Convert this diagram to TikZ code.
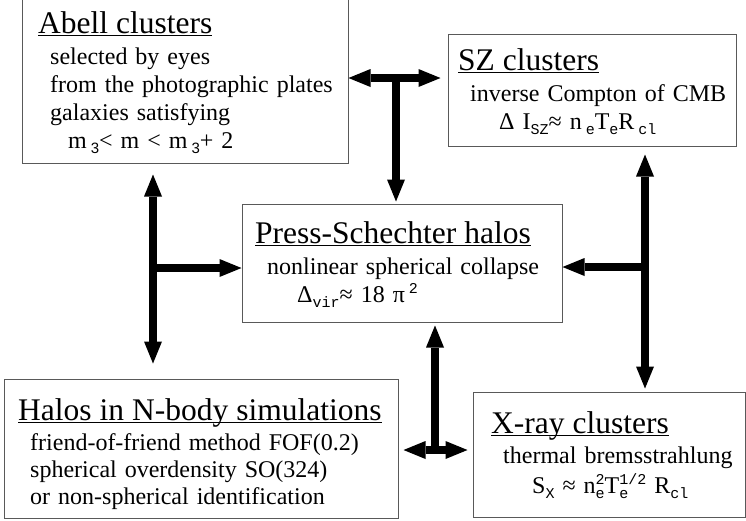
\documentclass[tikz,border=0pt]{standalone}
\usepackage{fontspec}
\setmainfont{Liberation Serif}
\newfontfamily\monofont{Liberation Mono}
\newfontfamily\sansfnt{Liberation Sans}
\usetikzlibrary{arrows.meta, calc}

\newcommand{\titlefont}{\fontsize{31.5}{34}\selectfont}
\newcommand{\bodyfont}{\fontsize{24}{28}\selectfont}
\newcommand{\lowidx}[1]{\raisebox{-5pt}{\monofont\fontsize{15}{15}\selectfont #1}}
\newcommand{\highidx}[1]{\raisebox{9pt}{\monofont\fontsize{15}{15}\selectfont #1}}
\newcommand{\bothidx}[2]{\rlap{\lowidx{#1}}\highidx{#2}}
\newcommand{\headline}[1]{{\titlefont\setbox0\hbox{#1}\rlap{\rule[-2.5pt]{\wd0}{1pt}}\box0}}

\begin{document}
\begin{tikzpicture}[x=1pt, y=-1pt,
    box/.style={draw=black!65, line width=1pt, inner sep=0pt},
    boxtext/.style={anchor=base west, inner sep=0pt, text width=420pt, align=left, font=\bodyfont},
    link/.style={line width=7.5pt, >={Triangle[length=22pt,width=18pt,line width=0pt]}}]

    \useasboundingbox (0,0) rectangle (746,520);

    % Boxes
    \node[box, minimum width=326pt, minimum height=164pt] (abell) at (185,81) {};
    \node[box, minimum width=288pt, minimum height=112pt] (sz) at (592,90) {};
    \node[box, minimum width=320pt, minimum height=118pt] (ps) at (402,263) {};
    \node[box, minimum width=394pt, minimum height=139pt] (halos) at (201,448.5) {};
    \node[box, minimum width=272pt, minimum height=125pt] (xray) at (609,454.5) {};

    % Abell clusters
    \node[boxtext] (abelltxt) at (38,33) {\headline{Abell clusters}\\[3pt]
        \hspace*{12pt}selected by eyes\\
        \hspace*{12pt}from the photographic plates\\
        \hspace*{12pt}galaxies satisfying\\
        \hspace*{30pt}m\,\lowidx{\sansfnt 3}< m < m\,\lowidx{\sansfnt 3}+ 2};

    % SZ clusters
    \node[boxtext] (sztxt) at (458,70) {\headline{SZ clusters}\\[3pt]
        \hspace*{12pt}inverse Compton of CMB\\
        \hspace*{41pt}Δ I\lowidx{SZ}≈ n\,\lowidx{e}T\lowidx{e}R\,\lowidx{cl}};

    % Press-Schechter halos
    \node[boxtext] (pstxt) at (255,243) {\headline{Press-Schechter halos}\\[3pt]
        \hspace*{12pt}nonlinear spherical collapse\\
        \hspace*{42pt}Δ\lowidx{vir}≈ 18 π\,\highidx{2}};

    % Halos in N-body simulations
    \node[boxtext] (halostxt) at (18,420) {\headline{Halos in N-body simulations}\\[2pt]
        \hspace*{12pt}friend-of-friend method FOF(0.2)\\[-1pt]
        \hspace*{12pt}spherical overdensity SO(324)\\[-1pt]
        \hspace*{12pt}or non-spherical identification};

    % X-ray clusters
    \node[boxtext] (xraytxt) at (491,433) {\headline{X-ray clusters}\\[2pt]
        \hspace*{12pt}thermal bremsstrahlung\\[2pt]
        \hspace*{41pt}S\lowidx{X} ≈ n\bothidx{e}{2}T\bothidx{e}{1/2} R\lowidx{cl}};

    % T junctions
    \coordinate (topT) at (396,78);
    \coordinate (leftT) at (153,268);
    \coordinate (rightT) at (645,267);
    \coordinate (botT) at (435,450);

    % Abell <-> SZ, down to Press-Schechter
    \draw[link,<->,shorten >=7pt] (abell.east |- topT) -- (sz.west |- topT);
    \draw[link,->,shorten >=2pt] (topT) -- (ps.north -| topT);

    % Abell <-> N-body, over to Press-Schechter
    \draw[link,<->,shorten <=11pt,shorten >=15pt] (abell.south -| leftT) -- (halos.north -| leftT);
    \draw[link,->] (leftT) -- (ps.west |- leftT);

    % SZ <-> X-ray, over to Press-Schechter
    \draw[link,<->,shorten <=8pt,shorten >=3pt] (sz.south -| rightT) -- (xray.north -| rightT);
    \draw[link,->] (rightT) -- (ps.east |- rightT);

    % N-body <-> X-ray, up to Press-Schechter
    \draw[link,->,shorten >=3pt] (botT) -- (ps.south -| botT);
    \draw[link,<->,shorten <=5pt,shorten >=5pt] (halos.east |- botT) -- (xray.west |- botT);

\end{tikzpicture}
\end{document}
